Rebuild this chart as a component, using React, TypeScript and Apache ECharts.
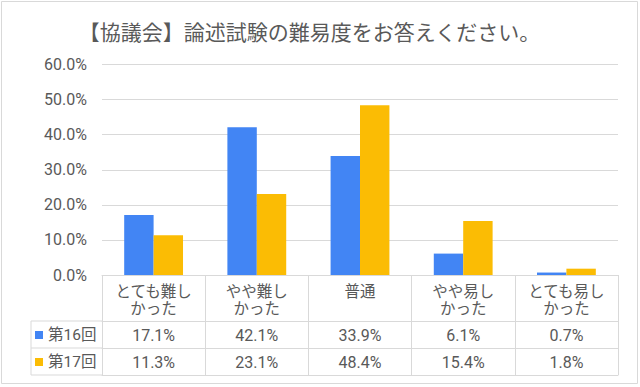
import React, { useEffect, useRef } from "react";
import * as echarts from "echarts";

const title = "【協議会】論述試験の難易度をお答えください。";
const categories = ["とても難し\nかった", "やや難し\nかった", "普通", "やや易し\nかった", "とても易し\nかった"];
const seriesNames = ["第16回", "第17回"];
const values16 = [17.1, 42.1, 33.9, 6.1, 0.7];
const values17 = [11.3, 23.1, 48.4, 15.4, 1.8];
const yTicks = { min: 0, max: 60, interval: 10 };

const TEXT = "#595959";
const LINE = "#d9d9d9";
const FONT = "Roboto, 'Noto Sans CJK JP', sans-serif";

export default function App() {
  const ref = useRef<HTMLDivElement>(null);
  useEffect(() => {
    if (!ref.current) return;
    const chart = echarts.init(ref.current, null, { renderer: "svg" });
    const fmt = (v: number) => v.toFixed(1) + "%";
    chart.setOption({
      animation: false,
      backgroundColor: "#fff",
      textStyle: { fontFamily: FONT },
      title: {
        text: title,
        left: 309.5,
        top: 21,
        padding: 0,
        textAlign: "center",
        textStyle: { fontSize: 21, fontWeight: "normal", color: TEXT, fontFamily: FONT, lineHeight: 23 },
      },
      legend: {
        orient: "vertical",
        left: 35,
        top: 326,
        padding: 0,
        itemWidth: 8,
        itemHeight: 8,
        itemGap: 9,
        icon: "rect",
        selectedMode: false,
        textStyle: { fontSize: 15.5, color: TEXT, lineHeight: 18, fontFamily: FONT },
        data: seriesNames,
      },
      grid: { left: 102, right: 22, top: 64.5, bottom: 112, containLabel: false },
      yAxis: {
        type: "value",
        min: yTicks.min,
        max: yTicks.max,
        interval: yTicks.interval,
        axisLine: { show: false },
        axisTick: { show: false },
        axisLabel: { formatter: (v: number) => fmt(v), fontSize: 16, color: TEXT, margin: 15, fontFamily: FONT },
        splitLine: { lineStyle: { color: LINE, width: 1 } },
      },
      xAxis: [
        {
          type: "category",
          data: categories,
          position: "bottom",
          axisLine: { show: true, lineStyle: { color: LINE, width: 1 } },
          axisTick: { show: true, length: 100, interval: 0, lineStyle: { color: LINE, width: 1 } },
          axisLabel: { interval: 0, fontSize: 15.5, color: TEXT, lineHeight: 17, margin: 8, fontFamily: FONT },
        },
        {
          type: "category",
          data: categories,
          position: "bottom",
          offset: 46,
          axisLine: { show: true, lineStyle: { color: LINE, width: 1 } },
          axisTick: { show: false },
          axisLabel: {
            interval: 0,
            fontSize: 16,
            color: TEXT,
            lineHeight: 18,
            margin: 5,
            fontFamily: FONT,
            formatter: (_v: string, i: number) => fmt(values16[i]),
          },
        },
        {
          type: "category",
          data: categories,
          position: "bottom",
          offset: 73,
          axisLine: { show: true, lineStyle: { color: LINE, width: 1 } },
          axisTick: { show: false },
          axisLabel: {
            interval: 0,
            fontSize: 16,
            color: TEXT,
            lineHeight: 18,
            margin: 5,
            fontFamily: FONT,
            formatter: (_v: string, i: number) => fmt(values17[i]),
          },
        },
        {
          type: "category",
          data: categories,
          position: "bottom",
          offset: 100,
          axisLine: { show: true, lineStyle: { color: LINE, width: 1 } },
          axisTick: { show: false },
          axisLabel: { show: false },
        },
      ],
      series: [
        {
          name: seriesNames[0],
          type: "bar",
          data: values16,
          itemStyle: { color: "#4285F4" },
          barGap: "0%",
          barCategoryGap: "43%",
        },
        {
          name: seriesNames[1],
          type: "bar",
          data: values17,
          itemStyle: { color: "#FBBC04" },
          barGap: "0%",
          barCategoryGap: "43%",
        },
      ],
      graphic: [
        {
          type: "rect",
          shape: { x: 1.5, y: 1.5, width: 636, height: 382 },
          style: { fill: "none", stroke: LINE, lineWidth: 1 },
          silent: true,
        },
        { type: "line", shape: { x1: 31, y1: 321, x2: 102, y2: 321 }, style: { stroke: LINE, lineWidth: 1 } },
        { type: "line", shape: { x1: 31, y1: 348, x2: 102, y2: 348 }, style: { stroke: LINE, lineWidth: 1 } },
        { type: "line", shape: { x1: 31, y1: 375, x2: 102, y2: 375 }, style: { stroke: LINE, lineWidth: 1 } },
        { type: "line", shape: { x1: 31, y1: 321, x2: 31, y2: 375 }, style: { stroke: LINE, lineWidth: 1 } },
      ],
    });
    return () => chart.dispose();
  }, []);
  return (
    <div
      ref={ref}
      style={{ position: "fixed", left: 0, top: 0, width: 640, height: 387, background: "#fff" }}
    />
  );
}
